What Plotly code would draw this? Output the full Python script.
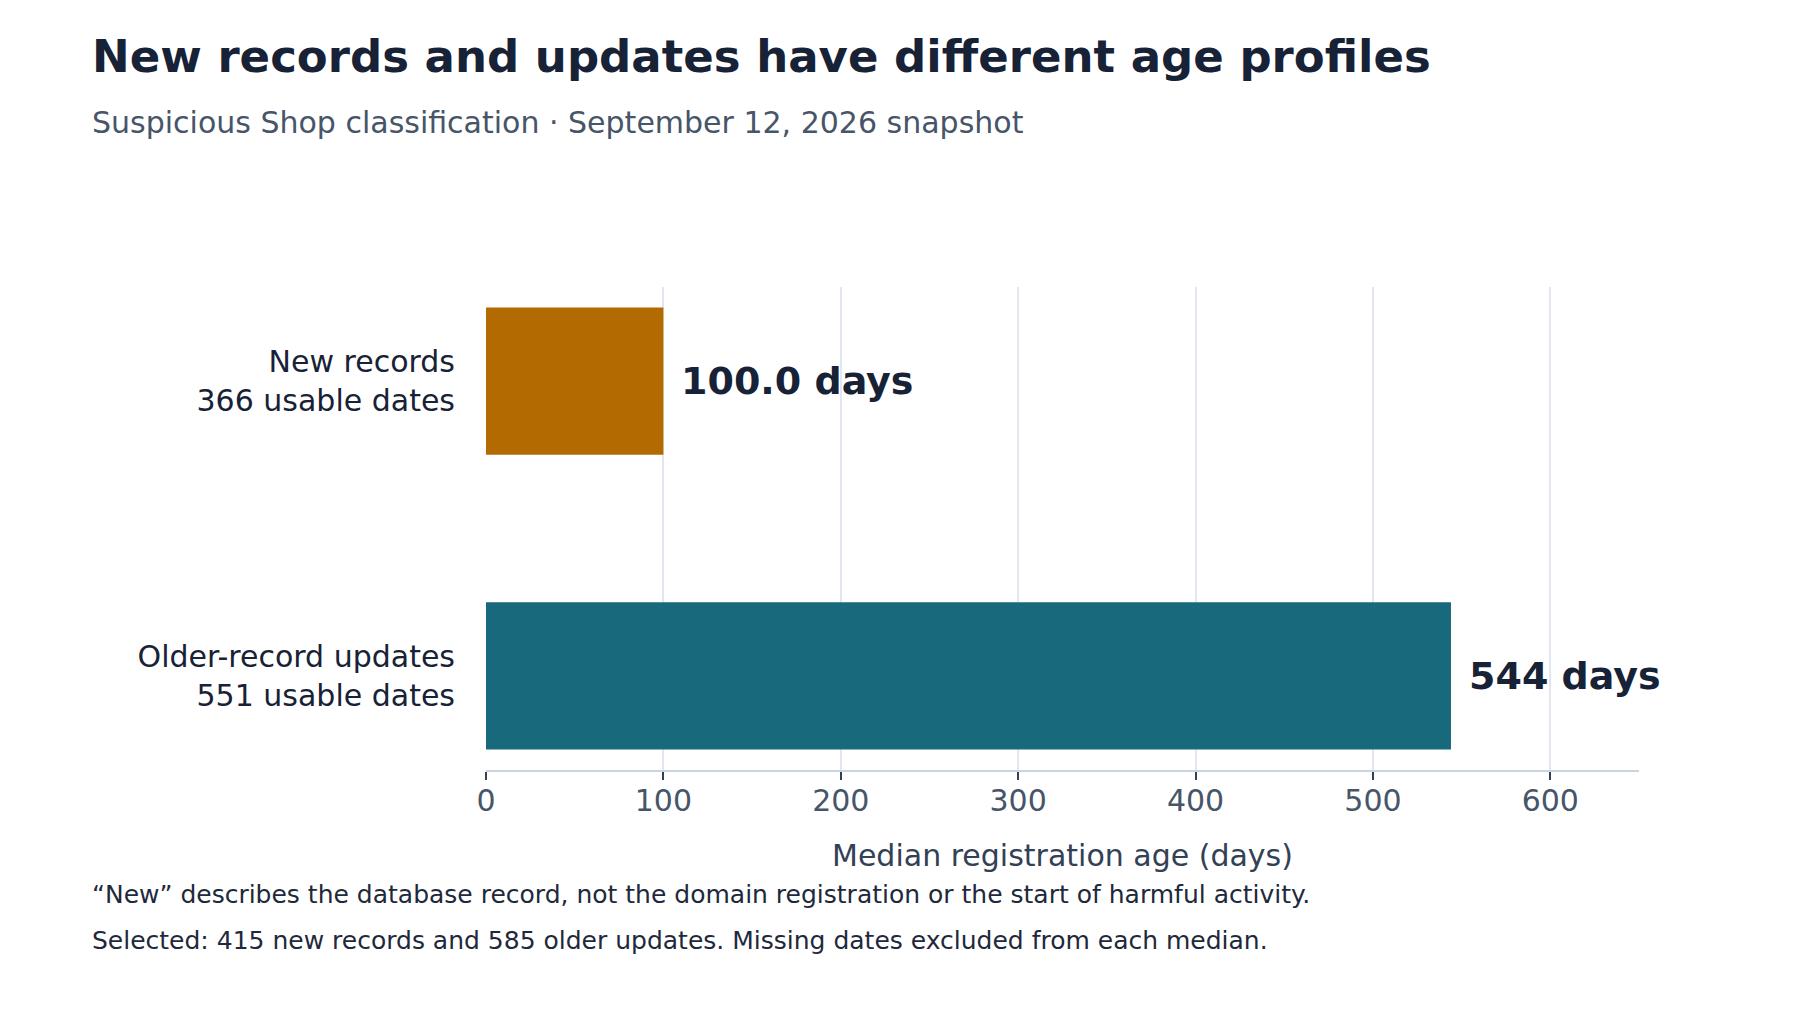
import plotly.graph_objects as go

# chart data
groups = ["Older-record updates", "New records"]
usable_dates = [551, 366]
median_age_days = [544, 100.0]
value_labels = ["544 days", "100.0 days"]
bar_colors = ["#19697c", "#b36a00"]

title = "New records and updates have different age profiles"
subtitle = "Suspicious Shop classification · September 12, 2026 snapshot"
footnotes = [
    "\u201cNew\u201d describes the database record, not the domain registration or the start of harmful activity.",
    "Selected: 415 new records and 585 older updates. Missing dates excluded from each median.",
]

FONT = "DejaVu Sans"
tick_text = [f"{g}<br>{n} usable dates" for g, n in zip(groups, usable_dates)]

fig = go.Figure(
    go.Bar(
        x=median_age_days,
        y=groups,
        orientation="h",
        width=0.5,
        marker=dict(color=bar_colors, line=dict(width=0)),
        hoverinfo="skip",
    )
)

# value labels to the right of each bar
for g, v, lab in zip(groups, median_age_days, value_labels):
    fig.add_annotation(
        x=v, y=g, text=f"<b>{lab}</b>", showarrow=False,
        xanchor="left", yanchor="middle", xshift=16,
        font=dict(family=FONT, size=38, color="#172236"),
    )

# title block and footnotes, placed in paper coords
fig.add_annotation(
    text=f"<b>{title}</b>", xref="paper", yref="paper", x=-0.3435, y=1.478,
    xanchor="left", yanchor="middle", showarrow=False,
    font=dict(family=FONT, size=45, color="#172236"),
)
fig.add_annotation(
    text=subtitle, xref="paper", yref="paper", x=-0.3435, y=1.340,
    xanchor="left", yanchor="middle", showarrow=False,
    font=dict(family=FONT, size=30, color="#475569"),
)
for i, note in enumerate(footnotes):
    fig.add_annotation(
        text=note, xref="paper", yref="paper", x=-0.3435, y=-0.257 - 0.095 * i,
        xanchor="left", yanchor="middle", showarrow=False,
        font=dict(family=FONT, size=25, color="#1e293b"),
    )

fig.update_layout(
    width=1800,
    height=1026,
    margin=dict(l=478, r=169, t=279, b=264),
    plot_bgcolor="white",
    paper_bgcolor="white",
    showlegend=False,
    font=dict(family=FONT, color="#172236"),
    xaxis=dict(
        range=[0, 650],
        tickvals=[0, 100, 200, 300, 400, 500, 600],
        showgrid=True,
        gridcolor="#e3e6ef",
        gridwidth=2,
        zeroline=False,
        showline=True,
        linecolor="#cbd5e1",
        linewidth=2,
        ticks="outside",
        ticklen=8,
        tickwidth=2,
        tickcolor="#334155",
        ticklabelstandoff=-5,
        tickfont=dict(family=FONT, size=30, color="#475569"),
        title=dict(
            text="Median registration age (days)",
            standoff=28,
            font=dict(family=FONT, size=30, color="#334155"),
        ),
    ),
    yaxis=dict(
        range=[-0.32, 1.32],
        tickvals=groups,
        ticktext=tick_text,
        showgrid=False,
        zeroline=False,
        showline=False,
        ticks="",
        ticklabelstandoff=30,
        tickfont=dict(family=FONT, size=30, color="#172236"),
    ),
)

fig.write_html("out.html")
